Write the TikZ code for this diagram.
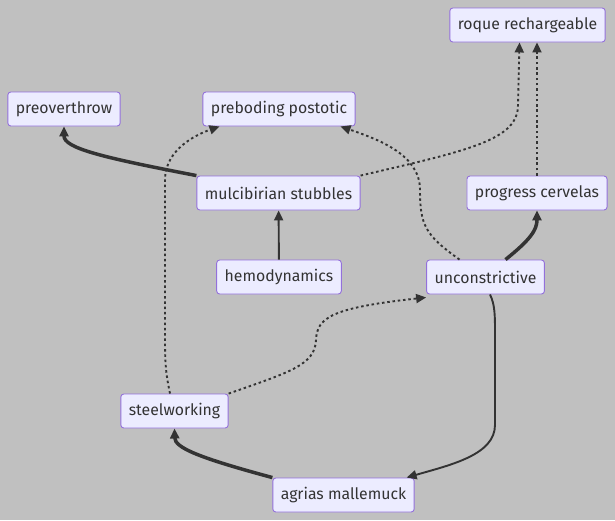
\documentclass[tikz,border=0pt]{standalone}
\usepackage{fontspec}
\setmainfont{Fira Sans}
\usepackage{xcolor}
\usepackage{tikz}
\usetikzlibrary{arrows.meta,positioning,calc}
\definecolor{bgray}{RGB}{192,192,192}
\definecolor{nfill}{RGB}{236,236,255}
\definecolor{nline}{RGB}{147,112,219}
\definecolor{ink}{RGB}{51,51,51}

\begin{document}
\begin{tikzpicture}[
    x=1pt, y=-1pt,
    font=\fontsize{15.8}{18}\selectfont, >={Triangle[length=10pt,width=9pt]},
    box/.style={draw=nline, fill=nfill, rounded corners=3pt, line width=0.9pt, text=ink, minimum height=34pt, inner xsep=8pt},
    link/.style={->, draw=ink, line width=1.9pt},
    thicklink/.style={link, line width=3.5pt},
    dotlink/.style={link, dash pattern=on 2.5pt off 2.8pt},
]
\useasboundingbox[fill=bgray] (0,0) rectangle (615,520);

\node[box] (roq) at (527.5,25)  {roque rechargeable};
\node[box] (pov) at (64,109)    {preoverthrow};
\node[box] (pbp) at (279,109)   {preboding postotic};
\node[box] (mul) at (278.5,193) {mulcibirian stubbles};
\node[box] (prc) at (537,193)   {progress cervelas};
\node[box] (hem) at (279,277)   {hemodynamics};
\node[box] (unc) at (485.5,277) {unconstrictive};
\node[box] (stw) at (174.5,411) {steelworking};
\node[box] (agr) at (343.5,495) {agrias mallemuck};

% solid links
\draw[thicklink] (mul.north west) .. controls (100,157) and (64,148) .. (pov.south);
\draw[link] (hem) -- (mul);
\draw[thicklink] ([xshift=20pt]unc.north) .. controls (530,240) and (537,230) .. (prc.south);
\draw[thicklink] (agr.north west) .. controls (200,458) and (175,448) .. (stw.south);
\draw[link] ([xshift=4.5pt]unc.south) .. controls (495,305) and (495,315) .. (495,335)
    -- (495,425) .. controls (495,455) and (450,465) .. ([xshift=-8pt]agr.north east);
% dotted links
\draw[dotlink] (mul.north east) .. controls (470,150) and (518,140) .. (518,105) -- ([xshift=-8pt]roq.south);
\draw[dotlink] (prc.north) -- (prc.north |- roq.south);
\draw[dotlink] ([xshift=-26pt]unc.north) .. controls (425,235) and (420,225) .. (420,190)
    .. controls (420,155) and (380,140) .. ([xshift=-15pt]pbp.south east);
\draw[dotlink] ([xshift=-4.5pt]stw.north) .. controls (165,370) and (165,360) .. (165,330)
    -- (165,180) .. controls (165,150) and (195,135) .. ([xshift=17pt]pbp.south west);
\draw[dotlink] (stw.north east) .. controls (290,372) and (315,365) .. (316,340)
    .. controls (317,318) and (330,308) .. ([yshift=-3pt]unc.south west);
\end{tikzpicture}
\end{document}
